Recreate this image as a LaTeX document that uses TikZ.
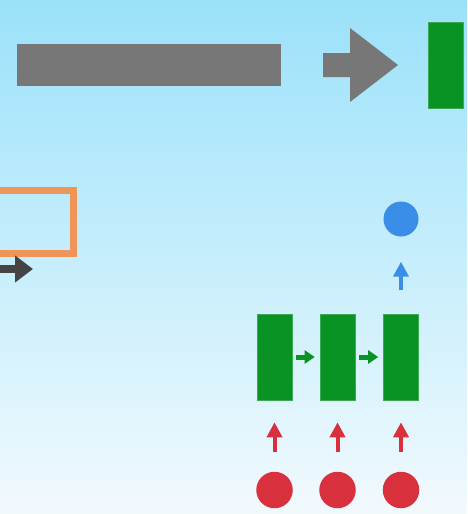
\documentclass[tikz,border=0pt]{standalone}
\usetikzlibrary{arrows.meta}
\definecolor{bgtop}{HTML}{9BE1FA}
\definecolor{bgmid}{HTML}{C6EEFC}
\definecolor{bgbot}{HTML}{F2F9FD}
\definecolor{barg}{HTML}{777777}
\definecolor{darkg}{HTML}{444444}
\definecolor{grn}{HTML}{0A9325}
\definecolor{org}{HTML}{F0955A}
\definecolor{blu}{HTML}{3A8EE8}
\definecolor{rd}{HTML}{D9303E}
\tikzset{
  cell/.style={rectangle, fill=grn, draw=grn!80!white, line width=0.6pt, minimum width=35pt, minimum height=86pt, inner sep=0pt},
  incirc/.style={circle, fill=rd, minimum size=36.5pt, inner sep=0pt},
  outcirc/.style={circle, fill=blu, minimum size=35pt, inner sep=0pt},
  uparrow/.style={line width=4pt, -{Triangle[length=15pt,width=15pt]}},
  redarrow/.style={uparrow, draw=rd},
  bluarrow/.style={uparrow, draw=blu},
  grnarrow/.style={draw=grn, line width=5pt, -{Triangle[length=10pt,width=13pt]}},
}
\begin{document}
\begin{tikzpicture}[x=1pt,y=-1pt]
\useasboundingbox (0,0) rectangle (467,514);
\shade[top color=bgtop, bottom color=bgbot, middle color=bgmid] (0,0) rectangle (467,514);
% top row
\node[rectangle, fill=barg, minimum width=264pt, minimum height=42pt, inner sep=0pt] (bar) at (149,65) {};
\fill[barg] (323,53) -- (350,53) -- (350,28) -- (398,65) -- (350,102) -- (350,77) -- (323,77) -- cycle;
\node[cell, minimum height=86pt] (top) at (445.5,65) {};
% orange box and dark arrow
\draw[org, line width=7pt] (-10,190) rectangle (73,253.5);
\coordinate (ds) at (-3,269);
\coordinate (de) at (33,269);
\draw[darkg, line width=8pt, -{Triangle[length=18pt,width=26pt]}] (ds) -- (de);
% recurrent cells
\node[cell] (h1) at (274.5,357) {};
\node[cell] (h2) at (337.5,357) {};
\node[cell] (h3) at (401,357) {};
\node[incirc] (x1) at (274.5,490) {};
\node[incirc] (x2) at (337.5,490) {};
\node[incirc] (x3) at (401,490) {};
\node[outcirc] (y) at (401,219) {};
\draw[grnarrow, shorten <=4pt, shorten >=5pt] (h1.east) -- (h2.west);
\draw[grnarrow, shorten <=4pt, shorten >=5pt] (h2.east) -- (h3.west);
\foreach \i in {1,2,3}{
  \draw[redarrow, shorten <=20pt, shorten >=22pt] (x\i.north) -- (h\i.south);
}
\draw[bluarrow, shorten <=24pt, shorten >=25pt] (h3.north) -- (y.south);
\end{tikzpicture}
\end{document}
